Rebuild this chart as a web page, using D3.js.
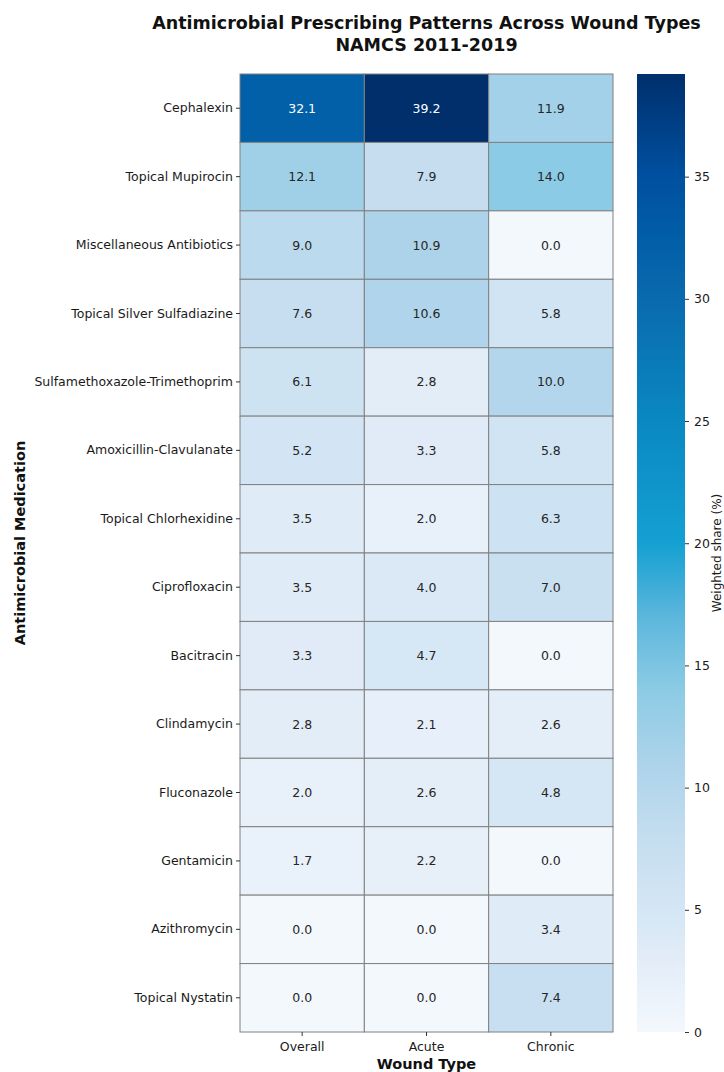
<!DOCTYPE html>
<html>
<head>
<meta charset="utf-8">
<script src="https://cdn.jsdelivr.net/npm/d3@7"></script>
<style>
  body { margin: 0; background: #fff; }
  svg { font-family: "DejaVu Sans", sans-serif; }
</style>
</head>
<body>
<script>
const medications = ["Cephalexin", "Topical Mupirocin", "Miscellaneous Antibiotics",
  "Topical Silver Sulfadiazine", "Sulfamethoxazole-Trimethoprim", "Amoxicillin-Clavulanate",
  "Topical Chlorhexidine", "Ciprofloxacin", "Bacitracin", "Clindamycin", "Fluconazole",
  "Gentamicin", "Azithromycin", "Topical Nystatin"];
const woundTypes = ["Overall", "Acute", "Chronic"];
const overall = [32.1, 12.1, 9.0, 7.6, 6.1, 5.2, 3.5, 3.5, 3.3, 2.8, 2.0, 1.7, 0.0, 0.0];
const acute   = [39.2, 7.9, 10.9, 10.6, 2.8, 3.3, 2.0, 4.0, 4.7, 2.1, 2.6, 2.2, 0.0, 0.0];
const chronic = [11.9, 14.0, 0.0, 5.8, 10.0, 5.8, 6.3, 7.0, 0.0, 2.6, 4.8, 0.0, 3.4, 7.4];
const colorTicks = [0, 5, 10, 15, 20, 25, 30, 35];

// colour ramp
const rampStops = [0, 3, 5, 8, 11, 14, 17, 20, 25, 30, 32.1, 35, 39.2];
const rampColors = ["#f3f8fd", "#e2ecf8", "#d4e6f4", "#c4ddef", "#acd3ea", "#8ccbe5",
  "#5cb6dc", "#14a0d2", "#0a88c2", "#0a6aae", "#0260a8", "#0050a0", "#002f6c"];

const series = [overall, acute, chronic];
const cells = [];
medications.forEach(function(m, i) {
  woundTypes.forEach(function(w, j) {
    cells.push({ med: m, type: w, value: series[j][i] });
  });
});

const W = 724, H = 1072;
const mLeft = 240, mRight = 613, mTop = 74, mBottom = 1032;

const svg = d3.select("body").append("svg").attr("width", W).attr("height", H);

const x = d3.scaleBand().domain(woundTypes).range([mLeft, mRight]);
const y = d3.scaleBand().domain(medications).range([mTop, mBottom]);
const color = d3.scaleLinear().domain(rampStops).range(rampColors)
  .interpolate(d3.interpolateRgb).clamp(true);

svg.append("g").selectAll("rect").data(cells).join("rect")
  .attr("x", d => x(d.type))
  .attr("y", d => y(d.med))
  .attr("width", x.bandwidth())
  .attr("height", y.bandwidth())
  .attr("fill", d => color(d.value))
  .attr("stroke", "#808080")
  .attr("stroke-width", 1);

svg.append("g").selectAll("text").data(cells).join("text")
  .attr("x", d => x(d.type) + x.bandwidth() / 2)
  .attr("y", d => y(d.med) + y.bandwidth() / 2)
  .attr("text-anchor", "middle")
  .attr("dominant-baseline", "central")
  .attr("font-size", 12.5)
  .attr("fill", d => d.value > 25 ? "#ffffff" : "#262626")
  .text(d => d.value.toFixed(1));

// axes
const yAxis = svg.append("g").attr("transform", `translate(${mLeft},0)`)
  .call(d3.axisLeft(y).tickSize(4).tickPadding(3));
yAxis.select(".domain").remove();
yAxis.selectAll("text").attr("font-size", 12.5).attr("fill", "#1a1a1a")
  .attr("font-family", "DejaVu Sans, sans-serif");
yAxis.selectAll("line").attr("stroke", "#333");

const xAxis = svg.append("g").attr("transform", `translate(0,${mBottom})`)
  .call(d3.axisBottom(x).tickSize(4).tickPadding(6));
xAxis.select(".domain").remove();
xAxis.selectAll("text").attr("font-size", 12.5).attr("fill", "#1a1a1a")
  .attr("font-family", "DejaVu Sans, sans-serif");
xAxis.selectAll("line").attr("stroke", "#333");

// titles
const cx = (mLeft + mRight) / 2;
svg.append("text").attr("x", cx).attr("y", 29).attr("text-anchor", "middle")
  .attr("font-size", 17.5).attr("font-weight", "bold").attr("fill", "#111")
  .text("Antimicrobial Prescribing Patterns Across Wound Types");
svg.append("text").attr("x", cx).attr("y", 51).attr("text-anchor", "middle")
  .attr("font-size", 17.5).attr("font-weight", "bold").attr("fill", "#111")
  .text("NAMCS 2011-2019");

svg.append("text").attr("x", cx).attr("y", 1069).attr("text-anchor", "middle")
  .attr("font-size", 14.5).attr("font-weight", "bold").attr("fill", "#111")
  .text("Wound Type");

svg.append("text")
  .attr("transform", `translate(25,${(mTop + mBottom) / 2 - 10}) rotate(-90)`)
  .attr("text-anchor", "middle")
  .attr("font-size", 14.5).attr("font-weight", "bold").attr("fill", "#111")
  .text("Antimicrobial Medication");

// colorbar
const cbX = 637, cbW = 48;
const cbScale = d3.scaleLinear().domain([0, 39.2]).range([mBottom, mTop]);
const defs = svg.append("defs");
const grad = defs.append("linearGradient").attr("id", "cbgrad")
  .attr("x1", 0).attr("y1", 1).attr("x2", 0).attr("y2", 0);
rampStops.forEach(function(s, i) {
  grad.append("stop").attr("offset", s / 39.2).attr("stop-color", rampColors[i]);
});
svg.append("rect").attr("x", cbX).attr("y", mTop).attr("width", cbW)
  .attr("height", mBottom - mTop).attr("fill", "url(#cbgrad)");

const cbAxis = svg.append("g").attr("transform", `translate(${cbX + cbW},0)`)
  .call(d3.axisRight(cbScale).tickValues(colorTicks).tickSize(4).tickPadding(5));
cbAxis.select(".domain").remove();
cbAxis.selectAll("text").attr("font-size", 12.5).attr("fill", "#1a1a1a")
  .attr("font-family", "DejaVu Sans, sans-serif");
cbAxis.selectAll("line").attr("stroke", "#333");

svg.append("text")
  .attr("transform", `translate(721,${(mTop + mBottom) / 2}) rotate(-90)`)
  .attr("text-anchor", "middle")
  .attr("font-size", 12).attr("fill", "#1a1a1a")
  .text("Weighted share (%)");
</script>
</body>
</html>
